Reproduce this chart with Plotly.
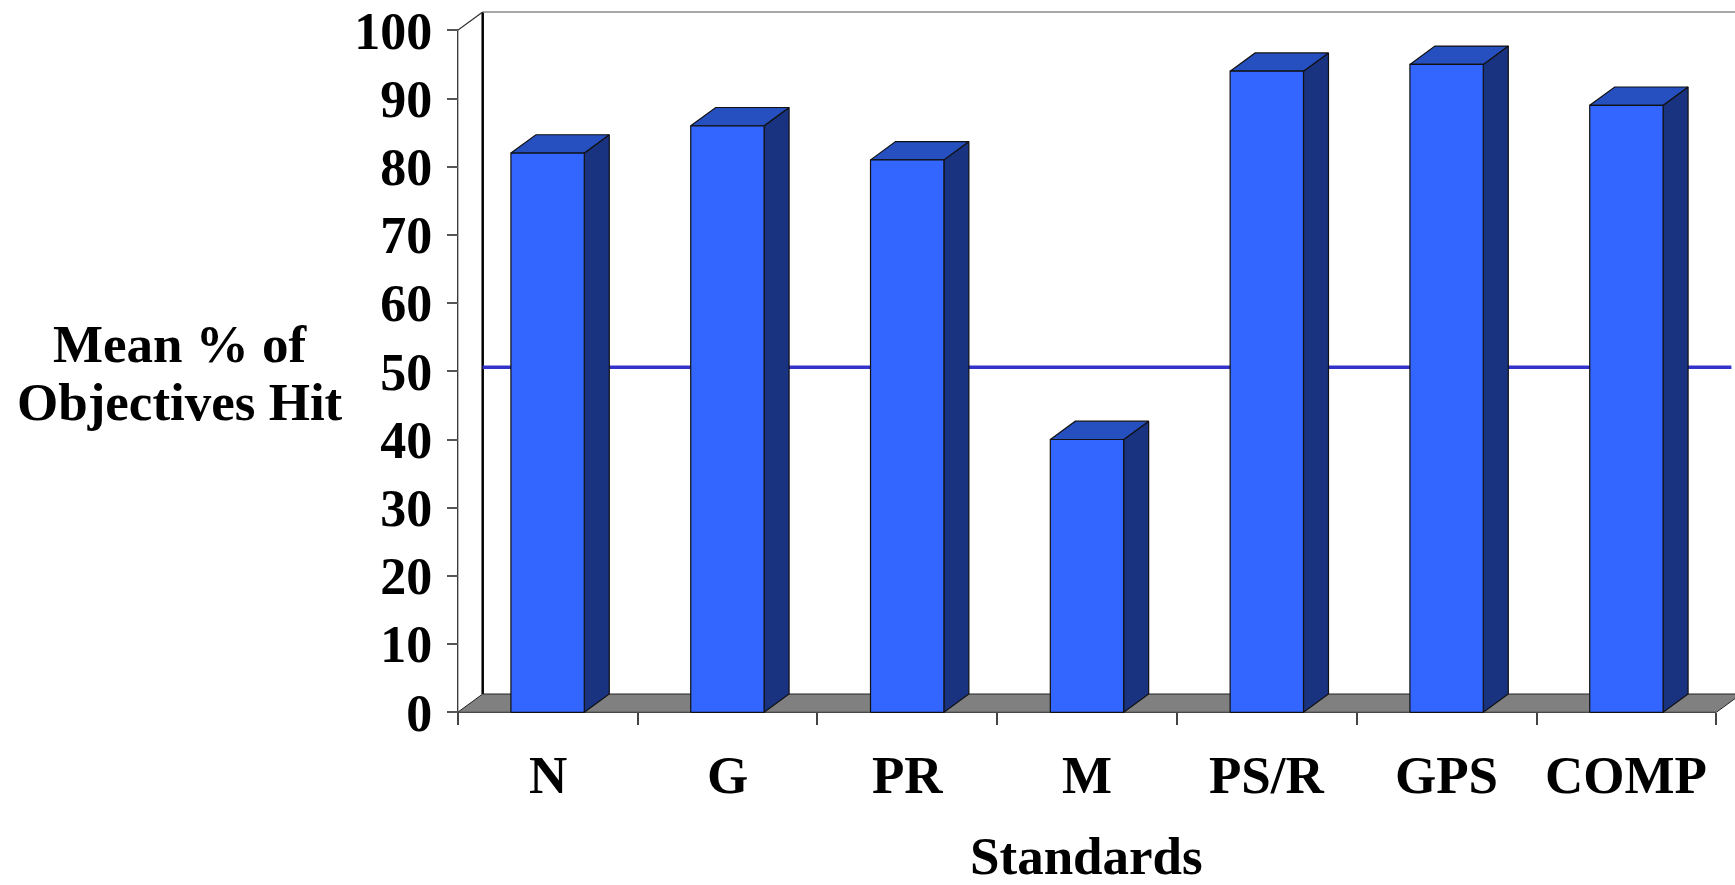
import plotly.graph_objects as go

# ---- data -------------------------------------------------------------
categories = ["N", "G", "PR", "M", "PS/R", "GPS", "COMP"]
mean_pct_hit = [82, 86, 81, 40, 94, 95, 89]
y_ticks = [0, 10, 20, 30, 40, 50, 60, 70, 80, 90, 100]
target_pct = 50
y_title_lines = ["Mean % of", "Objectives Hit"]
x_title = "Standards"

# ---- geometry (pixels) ------------------------------------------------
W, H = 1735, 885
ML, MR, MT, MB = 440, 0, 8, 155
PLOT_W = W - ML - MR
PLOT_H = H - MT - MB
X0_PX = 457.7     # left edge of the first category slot (front plane)
SLOT_PX = 179.8   # width of one category slot
Y0_PX = 712.3     # value 0 on the front plane
UNIT_PX = 6.82    # pixels per percentage point

# pseudo-3D depth offset, in data units
DX = 25.0 / SLOT_PX
DY = 18.3 / UNIT_PX
HALF_W = 0.204    # half width of a bar's front face
LINE_DEPTH = 0.22 # fraction of the depth at which the target line sits

x_min = -0.5 - (X0_PX - ML) / SLOT_PX
x_max = x_min + PLOT_W / SLOT_PX
y_max = (Y0_PX - MT) / UNIT_PX
y_min = y_max - PLOT_H / UNIT_PX
n = len(categories)
x_left, x_right = -0.5, n - 0.5

FONT = "Liberation Serif, Times New Roman, serif"
FS = 53
ASC = 0.3375      # baseline-to-box-centre offset of a single line, in em
FRONT = "#3366FF"
TOP = "#2650C0"
SIDE = "#1A3380"
FLOOR = "#808080"


def paper_x(px):
    return (px - ML) / PLOT_W


def paper_y(py):
    return (H - MB - py) / PLOT_H


def polys(shapes):
    xs, ys = [], []
    for pts in shapes:
        for (a, b) in pts + [pts[0]]:
            xs.append(a)
            ys.append(b)
        xs.append(None)
        ys.append(None)
    return xs, ys


fig = go.Figure()

# back wall: left edge and top edge
fig.add_trace(go.Scatter(
    x=[x_left + DX, x_left + DX], y=[DY, 100 + DY], mode="lines",
    line=dict(color="black", width=2.5), hoverinfo="skip", showlegend=False))
fig.add_trace(go.Scatter(
    x=[x_left + DX, x_max + 1], y=[100 + DY, 100 + DY], mode="lines",
    line=dict(color="#8a8a8a", width=1.5), hoverinfo="skip", showlegend=False))

# floor
fx, fy = polys([[(x_left, 0), (x_right, 0), (x_right + DX, DY), (x_left + DX, DY)]])
fig.add_trace(go.Scatter(
    x=fx, y=fy, mode="lines", fill="toself", fillcolor=FLOOR,
    line=dict(color="#222222", width=1), hoverinfo="skip", showlegend=False))

# target line across the back of the chart
fig.add_trace(go.Scatter(
    x=[x_left + DX, x_max - 0.02], y=[target_pct + LINE_DEPTH * DY] * 2,
    mode="lines", line=dict(color="#3333CC", width=3.5),
    hoverinfo="skip", showlegend=False))

# bars: side, top and front faces
side, top, front = [], [], []
for i, v in enumerate(mean_pct_hit):
    l, r = i - HALF_W, i + HALF_W
    side.append([(r, 0), (r, v), (r + DX, v + DY), (r + DX, DY)])
    top.append([(l, v), (r, v), (r + DX, v + DY), (l + DX, v + DY)])
    front.append([(l, 0), (r, 0), (r, v), (l, v)])

for faces, color in ((side, SIDE), (top, TOP), (front, FRONT)):
    px_, py_ = polys(faces)
    fig.add_trace(go.Scatter(
        x=px_, y=py_, mode="lines", fill="toself", fillcolor=color,
        line=dict(color="#111111", width=1.2), hoverinfo="skip",
        showlegend=False))

# front value axis line with its corner into the back wall
fig.add_trace(go.Scatter(
    x=[x_left, x_left, x_left + DX], y=[0, 100, 100 + DY], mode="lines",
    line=dict(color="#333333", width=1.3), hoverinfo="skip", showlegend=False))

label_font = dict(family=FONT, size=FS, color="black", weight=700)

# category labels
annotations = []
for i, c in enumerate(categories):
    annotations.append(dict(
        x=i, xref="x", y=paper_y(793 - ASC * FS), yref="paper",
        text=c, showarrow=False, xanchor="center", yanchor="middle",
        borderpad=0, borderwidth=0, font=label_font))

# axis titles
annotations.append(dict(
    x=paper_x(1086), xref="paper", y=paper_y(873.5 - ASC * FS), yref="paper",
    text=x_title, showarrow=False, xanchor="center", yanchor="middle",
    borderpad=0, borderwidth=0, font=label_font))
for line, base in zip(y_title_lines, (361.7, 420.0)):
    annotations.append(dict(
        x=paper_x(180), xref="paper", y=paper_y(base - ASC * FS), yref="paper",
        text=line, showarrow=False, xanchor="center", yanchor="middle",
        borderpad=0, borderwidth=0, font=label_font))

fig.update_layout(
    width=W, height=H,
    margin=dict(l=ML, r=MR, t=MT, b=MB, pad=0),
    paper_bgcolor="white", plot_bgcolor="white",
    showlegend=False,
    annotations=annotations,
    xaxis=dict(
        range=[x_min, x_max], anchor="free", position=paper_y(Y0_PX),
        tickmode="array", tickvals=[k - 0.5 for k in range(n + 1)],
        showticklabels=False, ticks="outside", ticklen=12, tickwidth=1.5,
        tickcolor="#444444", showgrid=False, zeroline=False, showline=False,
        fixedrange=True),
    yaxis=dict(
        range=[y_min, y_max], anchor="free", position=paper_x(X0_PX),
        tickmode="array", tickvals=y_ticks, ticks="outside", ticklen=11,
        tickwidth=1.5, tickcolor="#555555", ticklabelstandoff=4,
        tickfont=dict(family=FONT, size=52, color="black", weight=700),
        showgrid=False, zeroline=False, showline=False, fixedrange=True),
)

fig.write_html("out.html")
